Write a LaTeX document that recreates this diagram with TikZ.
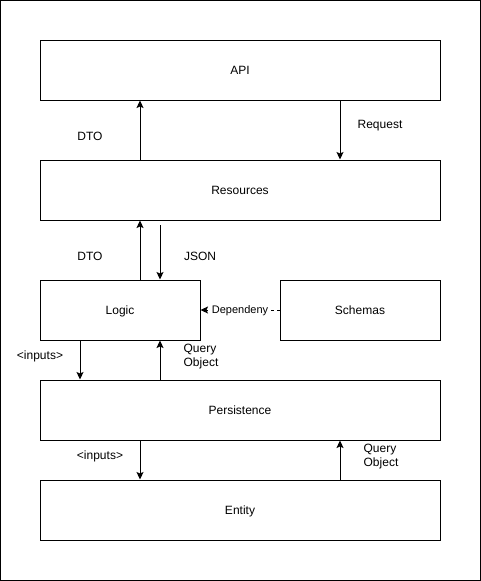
\documentclass[tikz,border=0pt]{standalone}
\usepackage{fontspec}
\setmainfont{Liberation Sans}
\usetikzlibrary{arrows.meta}
\begin{document}
\begin{tikzpicture}[x=1pt,y=-1pt,
  box/.style={draw, line width=1pt, minimum width=400pt, minimum height=60pt, inner sep=0pt, font=\fontsize{12}{14}\selectfont, text height=9pt, text depth=1pt},
  arr/.style={line width=1pt, -{Stealth[length=7.5pt,width=7pt,inset=1.5pt]}},
  lbl/.style={inner sep=0pt, font=\fontsize{12}{14}\selectfont, align=left}]
\useasboundingbox (0,0) rectangle (481,581);
\draw[line width=1pt] (0.5,0.5) rectangle (480.5,580.5);
\node[box] (api) at (240,70) {API};
\node[box] (res) at (240,190) {Resources};
\node[box, minimum width=160pt] (logic) at (120,310) {Logic};
\node[box, minimum width=160pt] (schemas) at (360,310) {Schemas};
\node[box] (pers) at (240,410) {Persistence};
\node[box] (entity) at (240,510) {Entity};
% API <-> Resources
\draw[arr] ([xshift=-100pt]res.north) -- ([xshift=-100pt]api.south);
\draw[arr] ([xshift=100pt]api.south) -- ([xshift=100pt]res.north);
\node[lbl] (dto1) at (90,136) {DTO};
\node[lbl] (req) at (380,126) {Request};
% Resources <-> Logic
\draw[arr] ([xshift=20pt]logic.north) -- ([xshift=-100pt]res.south);
\coordinate (jsonstart) at (160,225);
\draw[arr] (jsonstart) -- ([xshift=40pt]logic.north);
\node[lbl] (dto2) at (90,256) {DTO};
\node[lbl] (json) at (200,256) {JSON};
% Schemas -> Logic
\draw[arr, dash pattern=on 3pt off 3pt] (schemas.west) -- node[fill=white, inner sep=1pt, font=\fontsize{11}{13}\selectfont, yshift=-0.5pt] (dep) {Dependeny} (logic.east);
% Logic <-> Persistence
\draw[arr] ([xshift=-40pt]logic.south) -- ([xshift=-160pt]pers.north);
\draw[arr] ([xshift=-80pt]pers.north) -- ([xshift=40pt]logic.south);
\node[lbl] (in1) at (40,356) {<inputs>};
\node[lbl] (qo1) at (201,357) {Query\\Object};
% Persistence <-> Entity
\draw[arr] ([xshift=-100pt]pers.south) -- ([xshift=-100pt]entity.north);
\draw[arr] ([xshift=100pt]entity.north) -- ([xshift=100pt]pers.south);
\node[lbl] (in2) at (100,456) {<inputs>};
\node[lbl] (qo2) at (381,457) {Query\\Object};
\end{tikzpicture}
\end{document}
